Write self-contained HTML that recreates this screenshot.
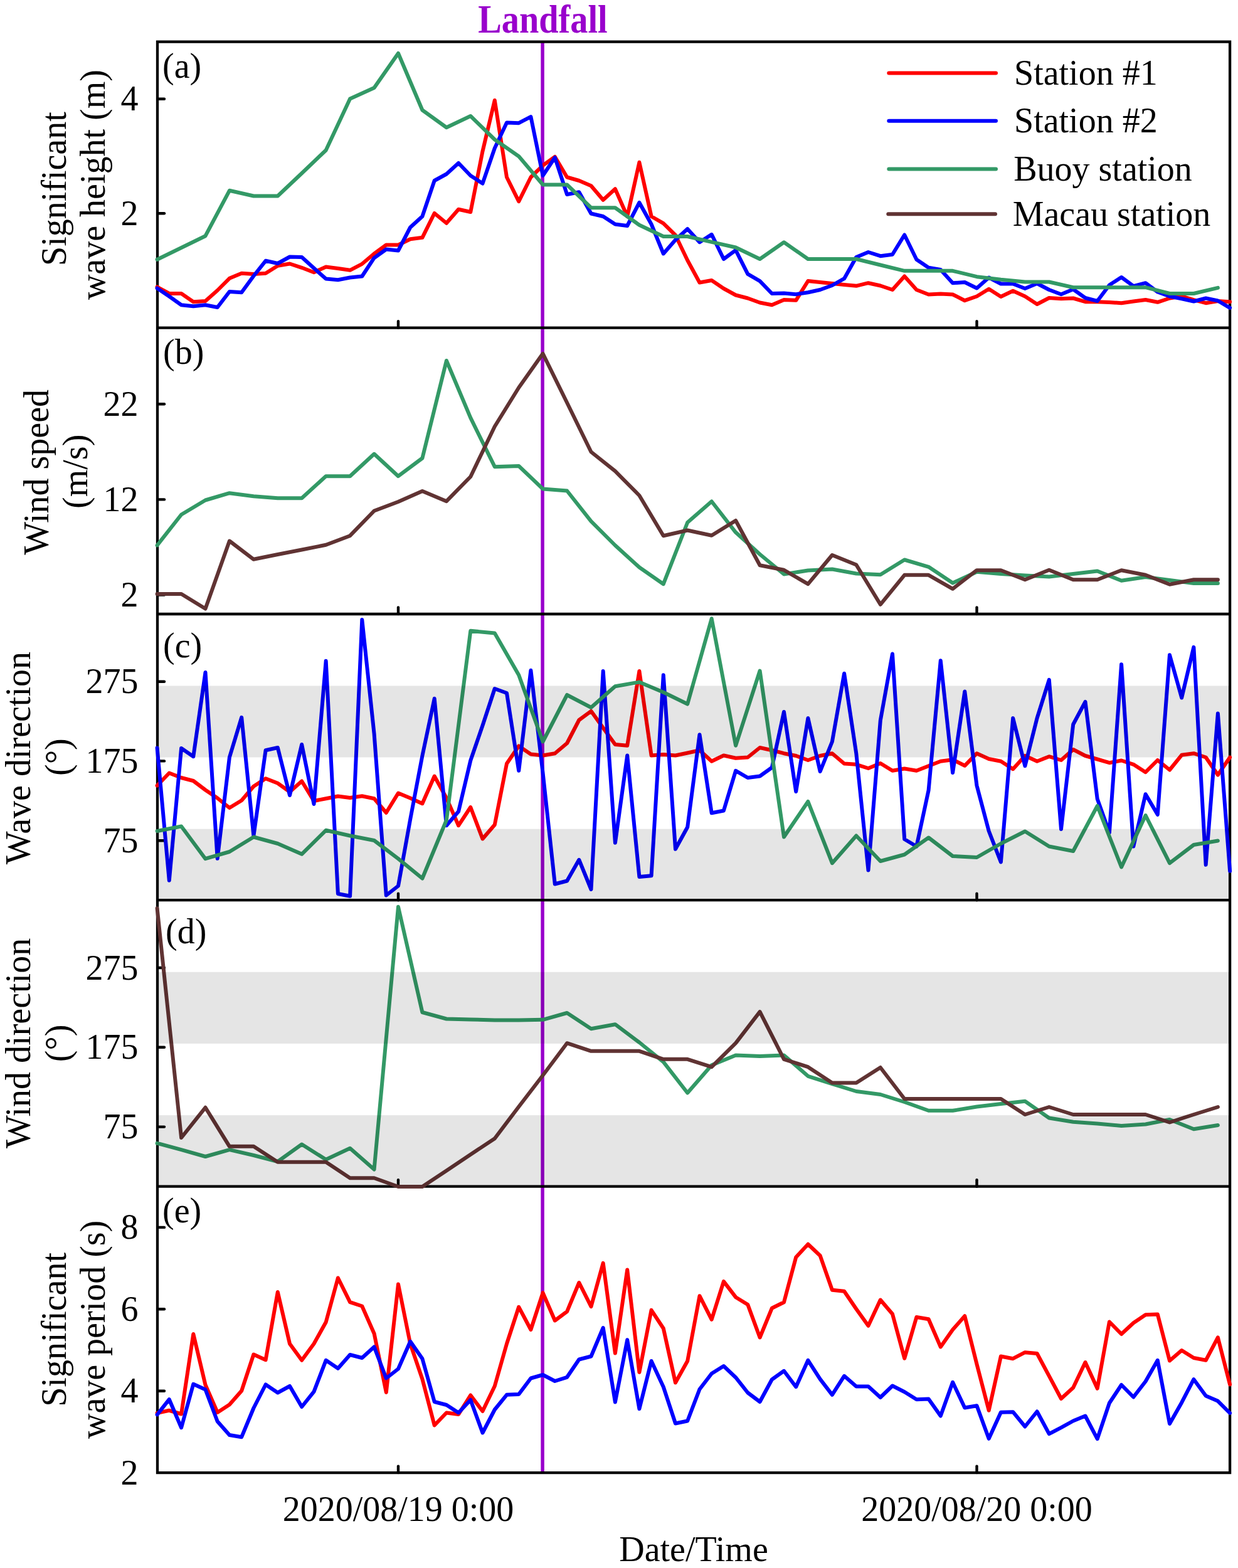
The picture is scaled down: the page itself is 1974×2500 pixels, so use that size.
<!DOCTYPE html>
<html lang="en"><head><meta charset="utf-8"><title>Landfall time series</title>
<style>html,body{margin:0;padding:0;background:#fff}svg{display:block}</style></head>
<body>
<svg width="1974" height="2500" viewBox="0 0 1974 2500" font-family="'Liberation Serif', 'Times New Roman', serif" font-size="56">
<rect x="0" y="0" width="1974" height="2500" fill="#fff"/>
<line x1="865.1" y1="66.6" x2="865.1" y2="2348.1" stroke="#9900cc" stroke-width="5.5"/>
<g fill="none" stroke="#000" stroke-width="4.3">
<rect x="251.0" y="66.6" width="1710.1" height="2281.5"/>
<line x1="251.0" y1="522.6" x2="1961.1" y2="522.6"/>
<line x1="251.0" y1="979.0" x2="1961.1" y2="979.0"/>
<line x1="251.0" y1="1435.2" x2="1961.1" y2="1435.2"/>
<line x1="251.0" y1="1891.7" x2="1961.1" y2="1891.7"/>
</g>
<g stroke="#000" stroke-width="4.4" stroke-linecap="round">
<line x1="635.0" y1="522.6" x2="635.0" y2="512.1"/>
<line x1="1557.5" y1="522.6" x2="1557.5" y2="512.1"/>
<line x1="635.0" y1="979.0" x2="635.0" y2="968.5"/>
<line x1="1557.5" y1="979.0" x2="1557.5" y2="968.5"/>
<line x1="635.0" y1="1435.2" x2="635.0" y2="1424.7"/>
<line x1="1557.5" y1="1435.2" x2="1557.5" y2="1424.7"/>
<line x1="635.0" y1="1891.7" x2="635.0" y2="1881.2"/>
<line x1="1557.5" y1="1891.7" x2="1557.5" y2="1881.2"/>
<line x1="635.0" y1="2348.1" x2="635.0" y2="2337.6"/>
<line x1="1557.5" y1="2348.1" x2="1557.5" y2="2337.6"/>
<line x1="253.0" y1="340.2" x2="262.0" y2="340.2"/>
<line x1="253.0" y1="157.8" x2="262.0" y2="157.8"/>
<line x1="253.0" y1="948.6" x2="262.0" y2="948.6"/>
<line x1="253.0" y1="796.4" x2="262.0" y2="796.4"/>
<line x1="253.0" y1="644.3" x2="262.0" y2="644.3"/>
<line x1="253.0" y1="1340.2" x2="262.0" y2="1340.2"/>
<line x1="253.0" y1="1213.4" x2="262.0" y2="1213.4"/>
<line x1="253.0" y1="1086.7" x2="262.0" y2="1086.7"/>
<line x1="253.0" y1="1796.6" x2="262.0" y2="1796.6"/>
<line x1="253.0" y1="1669.8" x2="262.0" y2="1669.8"/>
<line x1="253.0" y1="1543.0" x2="262.0" y2="1543.0"/>
<line x1="253.0" y1="2217.7" x2="262.0" y2="2217.7"/>
<line x1="253.0" y1="2087.3" x2="262.0" y2="2087.3"/>
<line x1="253.0" y1="1956.9" x2="262.0" y2="1956.9"/>
</g>
<g fill="none" stroke-width="6.0" stroke-linejoin="round" stroke-linecap="round">
<polyline points="250.6,457.5 269.8,468.0 289.1,468.0 308.3,481.2 327.5,480.0 346.7,463.0 365.9,443.8 385.2,435.8 404.4,437.0 423.6,435.8 442.8,423.8 462.0,420.5 481.2,426.8 500.5,434.2 519.7,425.5 538.9,428.0 558.1,430.8 577.3,420.8 596.6,404.5 615.8,390.5 635.0,390.5 654.2,381.2 673.4,378.8 692.7,340.0 711.9,355.8 731.1,333.8 750.3,338.0 769.5,241.2 788.8,160.0 808.0,282.5 827.2,321.2 846.4,282.5 865.6,263.8 884.8,250.0 904.1,282.5 923.3,288.0 942.5,296.2 961.7,318.8 980.9,301.2 1000.2,345.0 1019.4,258.8 1038.6,345.0 1057.8,356.2 1077.0,375.0 1096.2,415.0 1115.5,450.5 1134.7,447.0 1153.9,460.0 1173.1,470.5 1192.3,475.5 1211.6,482.5 1230.8,486.2 1250.0,478.0 1269.2,478.8 1288.4,448.0 1307.7,450.0 1326.9,452.0 1346.1,454.0 1365.3,455.8 1384.5,451.2 1403.8,455.5 1423.0,462.0 1442.2,440.5 1461.4,462.0 1480.6,469.5 1499.8,468.5 1519.1,469.5 1538.3,479.2 1557.5,472.5 1576.7,460.8 1595.9,473.0 1615.2,463.8 1634.4,472.5 1653.6,485.0 1672.8,475.0 1692.0,476.2 1711.2,475.5 1730.5,481.2 1749.7,481.2 1768.9,482.0 1788.1,483.2 1807.3,480.5 1826.6,478.0 1845.8,481.8 1865.0,475.5 1884.2,472.5 1903.4,478.2 1922.7,483.2 1941.9,480.0 1961.1,481.2" stroke="#ff0000"/>
<polyline points="250.6,459.5 269.8,472.5 289.1,486.2 308.3,488.2 327.5,486.2 346.7,490.0 365.9,465.0 385.2,466.2 404.4,440.0 423.6,415.8 442.8,420.0 462.0,409.5 481.2,410.0 500.5,427.5 519.7,444.5 538.9,446.2 558.1,442.5 577.3,440.5 596.6,411.2 615.8,397.5 635.0,399.5 654.2,362.5 673.4,345.0 692.7,288.0 711.9,277.5 731.1,260.0 750.3,280.0 769.5,292.5 788.8,236.2 808.0,195.5 827.2,196.2 846.4,186.2 865.6,280.0 884.8,251.2 904.1,310.0 923.3,306.2 942.5,340.5 961.7,345.0 980.9,357.5 1000.2,360.0 1019.4,323.0 1038.6,357.5 1057.8,404.5 1077.0,382.5 1096.2,365.0 1115.5,386.2 1134.7,373.8 1153.9,413.0 1173.1,398.8 1192.3,436.8 1211.6,448.2 1230.8,468.0 1250.0,467.5 1269.2,469.2 1288.4,466.2 1307.7,462.0 1326.9,455.0 1346.1,444.2 1365.3,410.0 1384.5,402.0 1403.8,408.2 1423.0,405.8 1442.2,374.5 1461.4,413.8 1480.6,426.8 1499.8,430.0 1519.1,451.2 1538.3,450.0 1557.5,459.5 1576.7,442.5 1595.9,452.5 1615.2,452.5 1634.4,460.0 1653.6,452.0 1672.8,462.0 1692.0,469.2 1711.2,461.2 1730.5,475.0 1749.7,480.0 1768.9,454.5 1788.1,442.0 1807.3,456.2 1826.6,451.2 1845.8,465.5 1865.0,472.5 1884.2,476.2 1903.4,480.5 1922.7,475.5 1941.9,479.5 1961.1,490.8" stroke="#0000ff"/>
<polyline points="250.6,413.8 327.5,376.2 365.9,303.8 404.4,312.5 442.8,312.5 481.2,276.2 519.7,239.5 558.1,157.5 596.6,140.0 635.0,85.0 673.4,175.5 711.9,203.2 750.3,185.0 788.8,222.5 827.2,249.2 865.6,294.5 904.1,294.5 942.5,331.2 980.9,331.2 1019.4,358.8 1057.8,377.0 1096.2,377.0 1134.7,385.8 1173.1,394.5 1211.6,413.0 1250.0,386.2 1288.4,413.0 1326.9,413.0 1365.3,413.0 1403.8,422.5 1442.2,431.8 1480.6,431.8 1519.1,431.8 1557.5,441.2 1595.9,445.8 1634.4,449.5 1672.8,449.5 1711.2,458.2 1749.7,458.2 1788.1,458.2 1826.6,458.2 1865.0,468.0 1903.4,468.0 1941.9,458.8" stroke="#339966"/>
<polyline points="250.6,869.5 289.1,820.5 327.5,797.5 365.9,786.2 404.4,791.2 442.8,794.2 481.2,794.2 519.7,759.2 558.1,759.2 596.6,723.8 635.0,759.2 673.4,730.5 711.9,575.0 750.3,666.2 788.8,744.2 827.2,743.0 865.6,779.5 904.1,782.5 942.5,831.2 980.9,869.5 1019.4,904.5 1057.8,931.2 1096.2,833.0 1134.7,799.5 1173.1,848.8 1211.6,883.8 1250.0,915.5 1288.4,909.5 1326.9,907.5 1365.3,914.5 1403.8,916.2 1442.2,892.5 1480.6,903.8 1519.1,929.5 1557.5,911.8 1595.9,915.0 1634.4,917.5 1672.8,919.5 1711.2,915.0 1749.7,910.5 1788.1,925.8 1826.6,920.0 1865.0,925.0 1903.4,930.0 1941.9,930.0" stroke="#339966"/>
<polyline points="250.6,947.0 289.1,947.0 327.5,970.5 365.9,862.5 404.4,891.8 442.8,884.0 481.2,876.5 519.7,868.8 558.1,854.2 596.6,814.5 635.0,800.0 673.4,783.0 711.9,799.2 750.3,760.0 788.8,680.0 827.2,618.0 865.6,563.8 904.1,642.0 942.5,720.5 980.9,751.2 1019.4,790.0 1057.8,854.2 1096.2,845.5 1134.7,853.8 1173.1,830.0 1211.6,901.2 1250.0,908.8 1288.4,931.2 1326.9,885.0 1365.3,900.5 1403.8,963.8 1442.2,916.8 1480.6,916.8 1519.1,938.8 1557.5,909.2 1595.9,909.2 1634.4,924.2 1672.8,908.8 1711.2,924.2 1749.7,924.2 1788.1,909.2 1826.6,916.8 1865.0,931.8 1903.4,924.2 1941.9,924.2" stroke="#603333"/>
<polyline points="250.6,1252.5 269.8,1232.5 289.1,1240.0 308.3,1245.0 327.5,1259.5 346.7,1272.5 365.9,1288.0 385.2,1276.2 404.4,1253.8 423.6,1241.2 442.8,1248.8 462.0,1262.5 481.2,1245.5 500.5,1277.0 519.7,1273.2 538.9,1269.5 558.1,1272.0 577.3,1269.2 596.6,1273.2 615.8,1295.8 635.0,1264.5 654.2,1272.5 673.4,1281.2 692.7,1237.5 711.9,1272.5 731.1,1316.2 750.3,1287.0 769.5,1337.5 788.8,1315.0 808.0,1217.5 827.2,1189.5 846.4,1202.5 865.6,1204.5 884.8,1201.2 904.1,1185.0 923.3,1148.0 942.5,1133.8 961.7,1160.5 980.9,1187.0 1000.2,1188.8 1019.4,1070.0 1038.6,1204.5 1057.8,1203.0 1077.0,1204.5 1096.2,1200.5 1115.5,1196.2 1134.7,1213.8 1153.9,1204.5 1173.1,1208.8 1192.3,1207.5 1211.6,1192.0 1230.8,1196.2 1250.0,1201.2 1269.2,1205.0 1288.4,1212.0 1307.7,1205.0 1326.9,1201.2 1346.1,1217.5 1365.3,1218.8 1384.5,1225.0 1403.8,1217.0 1423.0,1228.8 1442.2,1225.5 1461.4,1228.8 1480.6,1221.2 1499.8,1213.8 1519.1,1211.2 1538.3,1220.8 1557.5,1201.2 1576.7,1210.0 1595.9,1213.8 1615.2,1226.2 1634.4,1205.0 1653.6,1213.8 1672.8,1206.2 1692.0,1212.0 1711.2,1195.0 1730.5,1205.0 1749.7,1210.5 1768.9,1216.2 1788.1,1212.5 1807.3,1218.8 1826.6,1231.2 1845.8,1212.0 1865.0,1227.5 1884.2,1203.8 1903.4,1201.2 1922.7,1207.5 1941.9,1235.5 1961.1,1207.5" stroke="#ff0000"/>
<polyline points="250.6,1192.5 269.8,1403.8 289.1,1193.0 308.3,1206.2 327.5,1072.0 346.7,1368.8 365.9,1207.5 385.2,1143.8 404.4,1332.5 423.6,1196.2 442.8,1192.0 462.0,1268.0 481.2,1187.0 500.5,1282.0 519.7,1053.8 538.9,1425.0 558.1,1428.8 577.3,988.0 596.6,1170.0 615.8,1427.5 635.0,1412.5 654.2,1306.2 673.4,1205.0 692.7,1113.8 711.9,1316.2 731.1,1293.8 750.3,1212.5 769.5,1156.8 788.8,1098.0 808.0,1105.0 827.2,1228.8 846.4,1068.8 865.6,1232.5 884.8,1409.5 904.1,1404.5 923.3,1370.8 942.5,1418.0 961.7,1070.0 980.9,1343.8 1000.2,1204.5 1019.4,1398.0 1038.6,1396.2 1057.8,1076.2 1077.0,1353.8 1096.2,1318.8 1115.5,1171.2 1134.7,1296.2 1153.9,1292.5 1173.1,1228.8 1192.3,1240.0 1211.6,1237.5 1230.8,1223.8 1250.0,1135.0 1269.2,1262.0 1288.4,1145.0 1307.7,1230.0 1326.9,1182.5 1346.1,1073.8 1365.3,1201.2 1384.5,1387.5 1403.8,1148.8 1423.0,1042.5 1442.2,1338.0 1461.4,1349.5 1480.6,1260.0 1499.8,1053.2 1519.1,1232.0 1538.3,1102.5 1557.5,1252.5 1576.7,1325.0 1595.9,1374.5 1615.2,1145.0 1634.4,1221.2 1653.6,1145.0 1672.8,1083.8 1692.0,1322.0 1711.2,1155.0 1730.5,1118.8 1749.7,1273.8 1768.9,1327.5 1788.1,1059.2 1807.3,1349.5 1826.6,1266.2 1845.8,1298.8 1865.0,1044.2 1884.2,1112.5 1903.4,1031.8 1922.7,1378.8 1941.9,1137.5 1961.1,1388.8" stroke="#0000ff"/>
<polyline points="250.6,1325.0 289.1,1317.5 327.5,1369.2 365.9,1358.0 404.4,1334.5 442.8,1345.0 481.2,1361.8 519.7,1323.8 558.1,1332.5 596.6,1340.0 635.0,1369.2 673.4,1400.5 711.9,1307.5 750.3,1005.8 788.8,1009.5 827.2,1076.2 865.6,1182.5 904.1,1108.0 942.5,1128.0 980.9,1094.2 1019.4,1087.5 1057.8,1103.8 1096.2,1122.5 1134.7,986.2 1173.1,1188.8 1211.6,1069.5 1250.0,1334.5 1288.4,1278.0 1326.9,1376.2 1365.3,1332.5 1403.8,1373.0 1442.2,1362.5 1480.6,1335.5 1519.1,1365.0 1557.5,1367.0 1595.9,1345.0 1634.4,1325.5 1672.8,1349.5 1711.2,1357.0 1749.7,1285.0 1788.1,1382.5 1826.6,1300.0 1865.0,1376.2 1903.4,1347.0 1941.9,1340.5" stroke="#339966"/>
<polyline points="250.6,1822.8 289.1,1833.2 327.5,1844.0 365.9,1833.2 404.4,1842.0 442.8,1852.0 481.2,1824.5 519.7,1848.8 558.1,1830.8 596.6,1864.5 635.0,1445.8 673.4,1614.0 711.9,1624.5 750.3,1625.5 788.8,1626.5 827.2,1626.5 865.6,1625.8 904.1,1615.0 942.5,1640.2 980.9,1633.2 1019.4,1662.0 1057.8,1693.2 1096.2,1742.5 1134.7,1698.2 1173.1,1682.5 1211.6,1684.0 1250.0,1682.5 1288.4,1715.8 1326.9,1728.2 1365.3,1740.0 1403.8,1745.0 1442.2,1757.0 1480.6,1770.8 1519.1,1770.8 1557.5,1764.5 1595.9,1760.0 1634.4,1755.8 1672.8,1782.5 1711.2,1788.8 1749.7,1791.5 1788.1,1795.0 1826.6,1792.5 1865.0,1785.0 1903.4,1800.2 1941.9,1794.0" stroke="#339966"/>
<polyline points="250.6,1448.2 289.1,1814.0 327.5,1765.8 365.9,1827.8 404.4,1827.8 442.8,1852.8 481.2,1852.8 519.7,1852.8 558.1,1878.2 596.6,1878.2 635.0,1892.0 673.4,1892.0 711.9,1866.5 750.3,1840.8 788.8,1815.2 827.2,1764.5 865.6,1714.5 904.1,1663.2 942.5,1675.8 980.9,1675.8 1019.4,1675.8 1057.8,1688.8 1096.2,1688.8 1134.7,1701.2 1173.1,1663.2 1211.6,1613.2 1250.0,1688.8 1288.4,1701.2 1326.9,1726.5 1365.3,1726.5 1403.8,1702.0 1442.2,1752.0 1480.6,1752.0 1519.1,1752.0 1557.5,1752.0 1595.9,1752.0 1634.4,1777.0 1672.8,1765.0 1711.2,1777.0 1749.7,1777.0 1788.1,1777.0 1826.6,1777.0 1865.0,1789.5 1903.4,1777.0 1941.9,1765.0" stroke="#603333"/>
<polyline points="250.6,2253.0 269.8,2248.8 289.1,2254.5 308.3,2127.0 327.5,2208.0 346.7,2252.0 365.9,2239.5 385.2,2217.5 404.4,2159.5 423.6,2168.2 442.8,2060.0 462.0,2142.5 481.2,2168.8 500.5,2142.5 519.7,2108.0 538.9,2037.5 558.1,2076.2 577.3,2082.5 596.6,2126.2 615.8,2220.0 635.0,2047.5 654.2,2142.5 673.4,2198.8 692.7,2272.5 711.9,2252.5 731.1,2255.0 750.3,2224.5 769.5,2250.0 788.8,2210.0 808.0,2142.5 827.2,2083.8 846.4,2120.0 865.6,2061.2 884.8,2105.5 904.1,2091.2 923.3,2045.0 942.5,2083.2 961.7,2013.8 980.9,2157.5 1000.2,2024.5 1019.4,2188.0 1038.6,2088.8 1057.8,2118.0 1077.0,2204.5 1096.2,2170.0 1115.5,2066.2 1134.7,2103.8 1153.9,2043.2 1173.1,2068.2 1192.3,2080.0 1211.6,2132.5 1230.8,2085.8 1250.0,2076.2 1269.2,2004.5 1288.4,1983.8 1307.7,2002.0 1326.9,2056.8 1346.1,2058.8 1365.3,2087.0 1384.5,2113.8 1403.8,2072.5 1423.0,2095.0 1442.2,2165.8 1461.4,2100.0 1480.6,2103.2 1499.8,2147.5 1519.1,2120.0 1538.3,2098.2 1557.5,2175.0 1576.7,2248.8 1595.9,2162.5 1615.2,2166.2 1634.4,2156.2 1653.6,2158.0 1672.8,2193.8 1692.0,2230.0 1711.2,2212.5 1730.5,2172.0 1749.7,2213.8 1768.9,2107.5 1788.1,2127.0 1807.3,2109.2 1826.6,2096.2 1845.8,2095.5 1865.0,2169.5 1884.2,2153.0 1903.4,2165.0 1922.7,2168.8 1941.9,2132.5 1961.1,2207.5" stroke="#ff0000"/>
<polyline points="250.6,2255.5 269.8,2231.2 289.1,2276.2 308.3,2206.8 327.5,2215.5 346.7,2266.2 365.9,2288.0 385.2,2291.2 404.4,2245.0 423.6,2207.5 442.8,2220.5 462.0,2210.0 481.2,2243.0 500.5,2218.8 519.7,2168.8 538.9,2181.8 558.1,2160.0 577.3,2165.0 596.6,2147.5 615.8,2197.5 635.0,2182.5 654.2,2138.8 673.4,2166.2 692.7,2235.0 711.9,2240.0 731.1,2252.5 750.3,2232.0 769.5,2284.5 788.8,2247.5 808.0,2223.8 827.2,2223.0 846.4,2197.5 865.6,2192.0 884.8,2202.0 904.1,2195.8 923.3,2167.5 942.5,2162.5 961.7,2117.0 980.9,2235.5 1000.2,2136.2 1019.4,2246.2 1038.6,2170.0 1057.8,2211.2 1077.0,2269.5 1096.2,2265.5 1115.5,2215.0 1134.7,2190.0 1153.9,2178.0 1173.1,2196.2 1192.3,2220.5 1211.6,2235.0 1230.8,2199.5 1250.0,2185.8 1269.2,2211.2 1288.4,2168.8 1307.7,2198.8 1326.9,2223.8 1346.1,2193.8 1365.3,2210.5 1384.5,2210.5 1403.8,2228.0 1423.0,2209.5 1442.2,2219.2 1461.4,2231.2 1480.6,2230.5 1499.8,2257.5 1519.1,2203.8 1538.3,2244.5 1557.5,2241.2 1576.7,2293.8 1595.9,2251.8 1615.2,2251.2 1634.4,2274.5 1653.6,2250.5 1672.8,2286.2 1692.0,2276.2 1711.2,2265.5 1730.5,2257.5 1749.7,2294.2 1768.9,2237.0 1788.1,2208.0 1807.3,2227.5 1826.6,2202.5 1845.8,2168.8 1865.0,2270.0 1884.2,2236.2 1903.4,2199.2 1922.7,2225.5 1941.9,2233.8 1961.1,2253.0" stroke="#0000ff"/>
</g>
<rect x="251.0" y="1321.7" width="1710.1" height="114.0" fill="#000" fill-opacity="0.1"/>
<rect x="251.0" y="1093.5" width="1710.1" height="114.0" fill="#000" fill-opacity="0.1"/>
<rect x="251.0" y="1778.1" width="1710.1" height="114.1" fill="#000" fill-opacity="0.1"/>
<rect x="251.0" y="1549.8" width="1710.1" height="114.1" fill="#000" fill-opacity="0.1"/>
<g fill="#000">
<text x="220.5" y="358.7" text-anchor="end">2</text>
<text x="220.5" y="176.3" text-anchor="end">4</text>
<text x="220.5" y="967.1" text-anchor="end">2</text>
<text x="220.5" y="814.9" text-anchor="end">12</text>
<text x="220.5" y="662.8" text-anchor="end">22</text>
<text x="220.5" y="1358.7" text-anchor="end">75</text>
<text x="220.5" y="1231.9" text-anchor="end">175</text>
<text x="220.5" y="1105.2" text-anchor="end">275</text>
<text x="220.5" y="1815.1" text-anchor="end">75</text>
<text x="220.5" y="1688.3" text-anchor="end">175</text>
<text x="220.5" y="1561.5" text-anchor="end">275</text>
<text x="220.5" y="2366.6" text-anchor="end">2</text>
<text x="220.5" y="2236.2" text-anchor="end">4</text>
<text x="220.5" y="2105.8" text-anchor="end">6</text>
<text x="220.5" y="1975.4" text-anchor="end">8</text>
<text x="259" y="124.1">(a)</text>
<text x="260" y="580.1">(b)</text>
<text x="260" y="1048.0">(c)</text>
<text x="264" y="1504.2">(d)</text>
<text x="259" y="1948.7">(e)</text>
<text x="635" y="2425.2" text-anchor="middle">2020/08/19 0:00</text>
<text x="1557.5" y="2425.2" text-anchor="middle">2020/08/20 0:00</text>
<text x="1106" y="2489" text-anchor="middle">Date/Time</text>
<text transform="translate(105,301.1) rotate(-90)" text-anchor="middle">Significant</text>
<text transform="translate(167,294.6) rotate(-90)" text-anchor="middle">wave height (m)</text>
<text transform="translate(76.5,752.8) rotate(-90)" text-anchor="middle">Wind speed</text>
<text transform="translate(139,751.8) rotate(-90)" text-anchor="middle">(m/s)</text>
<text transform="translate(48,1208.6) rotate(-90)" text-anchor="middle">Wave direction</text>
<text transform="translate(111,1207.1) rotate(-90)" text-anchor="middle">(°)</text>
<text transform="translate(48,1663.45) rotate(-90)" text-anchor="middle">Wind direction</text>
<text transform="translate(111,1663.45) rotate(-90)" text-anchor="middle">(°)</text>
<text transform="translate(105,2119.9) rotate(-90)" text-anchor="middle">Significant</text>
<text transform="translate(167,2119.9) rotate(-90)" text-anchor="middle">wave period (s)</text>
<line x1="1417.3" y1="116.4" x2="1588" y2="116.4" stroke="#ff0000" stroke-width="6.0" stroke-linecap="round"/>
<text x="1617" y="134.9">Station #1</text>
<line x1="1417.3" y1="192.8" x2="1588" y2="192.8" stroke="#0000ff" stroke-width="6.0" stroke-linecap="round"/>
<text x="1617" y="211.3">Station #2</text>
<line x1="1417.3" y1="269.6" x2="1588" y2="269.6" stroke="#339966" stroke-width="6.0" stroke-linecap="round"/>
<text x="1616.2" y="288.1">Buoy station</text>
<line x1="1416.3" y1="341.3" x2="1587.0" y2="341.3" stroke="#603333" stroke-width="6.0" stroke-linecap="round"/>
<text x="1614.7" y="359.8">Macau station</text>
</g>
<text transform="translate(865.5,52.3) scale(1.005,1.14)" text-anchor="middle" font-weight="bold" fill="#9900cc">Landfall</text>
</svg>
</body></html>
